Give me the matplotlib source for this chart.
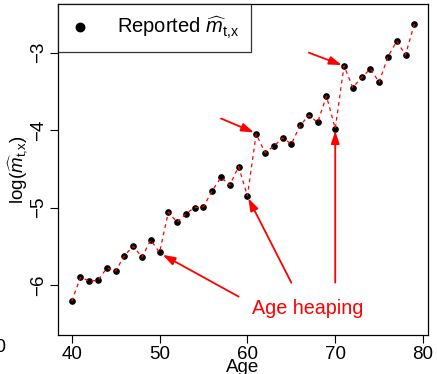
import numpy as np
import matplotlib.pyplot as plt

plt.rcParams['font.family'] = ['Liberation Sans', 'DejaVu Sans']
plt.rcParams['mathtext.fontset'] = 'custom'
plt.rcParams['mathtext.rm'] = 'Liberation Sans'
plt.rcParams['mathtext.it'] = 'Liberation Sans:italic'

# reported log death rates by single year of age
ages = np.arange(40, 80)
log_m = [-6.21, -5.90, -5.95, -5.94, -5.78, -5.82, -5.62, -5.50, -5.64, -5.42,
         -5.58, -5.06, -5.19, -5.08, -5.00, -4.99, -4.78, -4.61, -4.71, -4.47,
         -4.85, -4.05, -4.29, -4.21, -4.10, -4.18, -3.94, -3.81, -3.90, -3.56,
         -3.98, -3.17, -3.45, -3.32, -3.21, -3.38, -3.05, -2.85, -3.03, -2.63]

x_ticks = [40, 50, 60, 70, 80]
y_ticks = [-6, -5, -4, -3]

# annotation arrows: (start, tip) in data units
heap_arrows = [((59.0, -6.15), (50.35, -5.61)),
               ((65.0, -5.97), (60.1, -4.88)),
               ((70.0, -5.97), (70.0, -4.01))]
side_arrows = [((57.0, -3.85), (60.75, -4.03)),
               ((67.0, -3.00), (70.75, -3.16))]
heap_label = (66.9, -6.30)

fig = plt.figure(figsize=(4.37, 3.74), dpi=100)
ax = fig.add_axes([58 / 437, 1 - 335 / 374, 370 / 437, 331 / 374])

ax.plot(ages, log_m, 'o', color='black', ms=3.8, zorder=3,
        label=r'Reported $\widehat{m}_{\mathrm{t{,}x}}$')
ax.plot(ages, log_m, '--', color='red', lw=0.9, dashes=(3, 3), zorder=4)

arrow_kw = dict(arrowstyle='-|>,head_length=0.75,head_width=0.25',
                color='red', lw=1.3, shrinkA=0, shrinkB=0)
for start, tip in heap_arrows + side_arrows:
    ax.annotate('', xy=tip, xytext=start, arrowprops=arrow_kw, zorder=5)
ax.text(*heap_label, 'Age heaping', color='red', fontsize=14.2,
        ha='center', va='center')

ax.set_xlim(38.44, 80.56)
ax.set_ylim(-6.646, -2.371)
ax.set_xticks(x_ticks)
ax.set_yticks(y_ticks)
ax.tick_params(labelsize=13.5, length=6, width=0.8, pad=2)
for lab in ax.get_yticklabels():
    lab.set_rotation(90)
    lab.set_va('center')
ax.set_xlabel('Age', fontsize=13.5, labelpad=-3)
ax.set_ylabel(r'log($\widehat{m}_{\mathrm{t{,}x}}$)', fontsize=13.5, labelpad=0)
for sp in ax.spines.values():
    sp.set_linewidth(0.9)

leg = ax.legend(loc='upper left', bbox_to_anchor=(0, 1), borderaxespad=0,
                fontsize=14.5, frameon=True, fancybox=False, edgecolor='black',
                handlelength=1.1, handletextpad=1.3, borderpad=0.55,
                markerscale=1.6)
leg.get_frame().set_linewidth(0.9)

# tick label of the neighbouring panel at the left edge
fig.text(6.5 / 437, 1 - 348 / 374, '80', ha='right', va='center', fontsize=13.5)

fig.savefig('out.png', dpi=100)
